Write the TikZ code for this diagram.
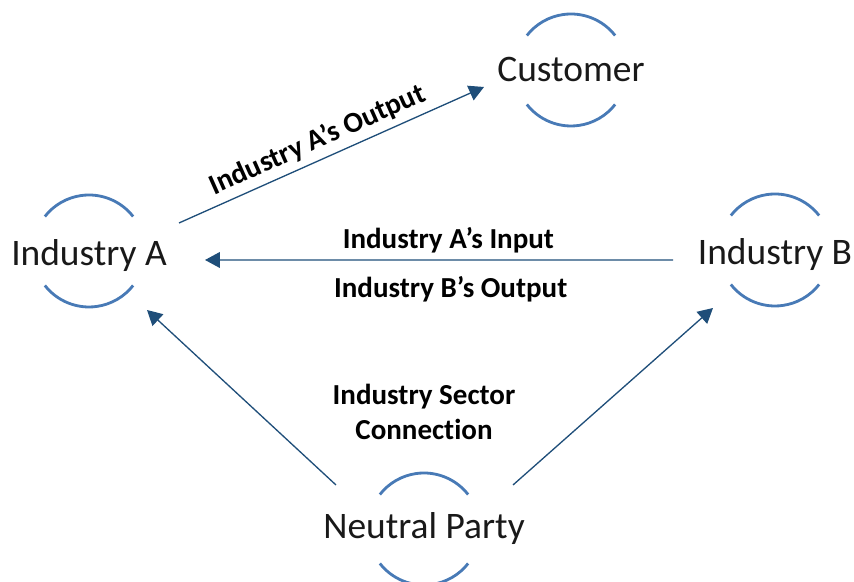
\documentclass[tikz,border=0pt]{standalone}
\usepackage{fontspec}
\setmainfont{Carlito}[Ligatures=NoCommon]
\usepackage{tikz}
\usetikzlibrary{arrows.meta,positioning}
\definecolor{ringblue}{RGB}{72,122,182}
\definecolor{linkblue}{RGB}{31,78,121}
\definecolor{ink}{RGB}{25,25,25}

\begin{document}
\begin{tikzpicture}[
  party/.style={font=\fontsize{21.3}{24}\selectfont,text=ink,inner sep=3pt},
  lbl/.style={font=\bfseries\fontsize{16.5}{20}\selectfont,text=black,align=center},
  ring/.style={line width=1.6pt,color=ringblue},
  a/.style={-{Triangle[length=8.5pt,width=9pt]},line width=0.75pt,color=linkblue}]
  \useasboundingbox (0,0) rectangle (17.08,11.64);
  \node[party] (cust) at (11.42,10.24) {Customer};
  \node[party] (indA) at (1.78,6.52) {Industry A};
  \node[party] (indB) at (15.50,6.54) {Industry B};
  \node[party] (neut) at (8.48,1.06) {Neutral Party};
  \node[lbl,above=1.22cm of neut] (sect) {Industry Sector\\Connection};
  % open rings above and below each party (\dy lifts the ring over its text)
  \foreach \n/\dy in {cust/0,indA/0.1,indB/0.1,neut/0}{
    \draw[ring] ([shift={(38:1.12)},yshift=\dy cm]\n.center) arc (38:142:1.12);
    \draw[ring] ([shift={(218:1.12)},yshift=\dy cm]\n.center) arc (218:322:1.12);
  }
  \draw[a] ([shift={(1.80,0.66)}]indA.center) -- node[lbl,sloped,above,pos=0.48] {Industry A’s Output} ([shift={(-1.74,-0.34)}]cust.center);
  \draw[a] ([shift={(-2.04,-0.10)}]indB.center) -- node[lbl,above,pos=0.48] {Industry A’s Input} node[lbl,below,pos=0.475,yshift=-0.2cm] {Industry B’s Output} ([shift={(2.32,-0.08)}]indA.center);
  \draw[a] ([shift={(-1.76,0.88)}]neut.center) -- ([shift={(1.16,-1.08)}]indA.center);
  \draw[a] ([shift={(1.78,0.88)}]neut.center) -- ([shift={(-1.24,-1.06)}]indB.center);
\end{tikzpicture}
\end{document}
